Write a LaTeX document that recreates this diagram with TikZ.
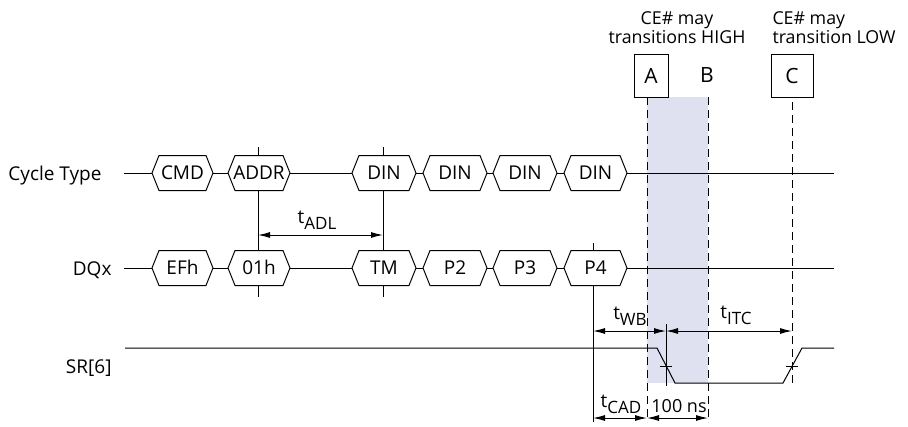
\documentclass[tikz,border=0pt]{standalone}
\usepackage{fontspec}
\setmainfont{Open Sans}
\usetikzlibrary{arrows.meta}
\newcommand{\busseg}[5]{%
  \coordinate (#1-w) at (#2,#4);
  \coordinate (#1-e) at (#3,#4);
  \draw[fill=white] (#2,#4) -- (#2+7,#4-17.5) -- (#3-7,#4-17.5) -- (#3,#4) -- (#3-7,#4+17.5) -- (#2+7,#4+17.5) -- cycle;
  \node[txt, anchor=base] (#1) at ({(#2+#3)/2},#4+6.8) {#5};}
\newcommand{\subtxt}[1]{\raisebox{-6pt}{\fontsize{17}{19}\selectfont #1}}
\begin{document}
\begin{tikzpicture}[x=1pt,y=-1pt, line width=1pt,
  txt/.style={inner sep=0pt, font=\fontsize{19}{22}\selectfont},
  hdr/.style={inner sep=0pt, font=\fontsize{17.8}{20}\selectfont},
  letterbox/.style={draw, inner sep=0pt, minimum height=43, font=\fontsize{21}{24}\selectfont},
  dim/.style={{Latex[length=12pt,width=6pt]}-{Latex[length=12pt,width=6pt]}},
  dsh/.style={dash pattern=on 8pt off 5pt, line width=0.9pt},
  shade/.style={fill={rgb,255:red,223;green,225;blue,240}}]
\useasboundingbox (0,0) rectangle (908,426);
% shaded window
\fill[shade] (647,97) rectangle (708,383);
% header texts
\node[hdr, anchor=base] (h1a) at (677,24) {CE\# may};
\node[hdr, anchor=base] (h1b) at (677,43.5) {transitions HIGH};
\node[hdr, anchor=base west] (h2a) at (772,24) {CE\# may};
\node[hdr, anchor=base west] (h2b) at (772,43.5) {transition LOW};
\node[letterbox, minimum width=34] (boxA) at (651,75.5) {A};
\node[inner sep=0pt, font=\fontsize{21}{24}\selectfont] (labB) at (707,75.5) {B};
\node[letterbox, minimum width=42] (boxC) at (792,75.5) {C};
% dashed markers
\coordinate (aT) at (647,97); \coordinate (aB) at (647,422);
\coordinate (bT) at (708,97); \coordinate (bB) at (708,422);
\coordinate (cT) at (792,102); \coordinate (cB) at (792,386);
\draw[dsh] (aT) -- (aB);
\draw[dsh] (bT) -- (bB);
\draw[dsh] (cT) -- (cB);
% vertical reference lines
\coordinate (v1T) at (258,147); \coordinate (v1B) at (258,297);
\coordinate (v2T) at (383,147); \coordinate (v2B) at (383,297);
\coordinate (v3T) at (593,243); \coordinate (v3B) at (593,422);
\coordinate (v4T) at (666,324); \coordinate (v4B) at (666,386);
\draw (v1T) -- (v1B);
\draw (v2T) -- (v2B);
\draw (v3T) -- (v3B);
\draw (v4T) -- (v4B);
% row labels
\node[txt, anchor=base east] (ctlab) at (102,180) {Cycle Type};
\node[txt, anchor=base east] (dqlab) at (112,275) {DQx};
\node[txt, anchor=base east] (srlab) at (112,373) {SR[6]};
% Cycle Type row
\coordinate (ct0) at (124,173); \coordinate (ct1) at (834,173);
\busseg{cmd}{152}{213}{173}{CMD}
\busseg{addr}{228}{290}{173}{ADDR}
\busseg{dina}{352}{416}{173}{DIN}
\busseg{dinb}{423}{487}{173}{DIN}
\busseg{dinc}{493}{557}{173}{DIN}
\busseg{dind}{564}{627}{173}{DIN}
\draw (ct0) -- (cmd-w);
\draw (cmd-e) -- (addr-w);
\draw (addr-e) -- (dina-w);
\draw (dina-e) -- (dinb-w);
\draw (dinb-e) -- (dinc-w);
\draw (dinc-e) -- (dind-w);
\draw (dind-e) -- (ct1);
% DQx row
\coordinate (dq0) at (124,268); \coordinate (dq1) at (834,268);
\busseg{efh}{152}{213}{268}{EFh}
\busseg{one}{228}{290}{268}{01h}
\busseg{tm}{352}{416}{268}{TM}
\busseg{ptwo}{423}{487}{268}{P2}
\busseg{pthree}{493}{557}{268}{P3}
\busseg{pfour}{564}{627}{268}{P4}
\draw (dq0) -- (efh-w);
\draw (efh-e) -- (one-w);
\draw (one-e) -- (tm-w);
\draw (tm-e) -- (ptwo-w);
\draw (ptwo-e) -- (pthree-w);
\draw (pthree-e) -- (pfour-w);
\draw (pfour-e) -- (dq1);
% SR[6]
\coordinate (s0) at (125,348); \coordinate (s1) at (657,348);
\coordinate (s2) at (675,383); \coordinate (s3) at (783,383);
\coordinate (s4) at (802,348); \coordinate (s5) at (834,348);
\draw[line join=miter] (s0) -- (s1) -- (s2) -- (s3) -- (s4) -- (s5);
\coordinate (k1a) at (660,366); \coordinate (k1b) at (672,366);
\coordinate (k2a) at (786,366); \coordinate (k2b) at (798,366);
\draw (k1a) -- (k1b);
\draw (k2a) -- (k2b);
% timing dimensions
\coordinate (adlL) at (258,235); \coordinate (adlR) at (383,235);
\draw[dim] (adlL) -- (adlR);
\node[txt, anchor=base] (tadl) at (317,223) {t\subtxt{ADL}};
\coordinate (wbL) at (593,331); \coordinate (wbR) at (666,331); \coordinate (itcR) at (792,331);
\draw[dim] (wbL) -- (wbR);
\draw[dim] (wbR) -- (itcR);
\node[txt, anchor=base] (twb) at (630,319) {t\subtxt{WB}};
\node[txt, anchor=base] (titc) at (736,318) {t\subtxt{ITC}};
\coordinate (cadL) at (593,418); \coordinate (cadR) at (647,418); \coordinate (nsR) at (708,418);
\draw[dim] (cadL) -- (cadR);
\draw[dim] (cadR) -- (nsR);
\node[txt, anchor=base] (tcad) at (621,407) {t\subtxt{CAD}};
\node[txt, anchor=base, font=\fontsize{18}{20}\selectfont] (ns) at (679,412) {100 ns};
\end{tikzpicture}
\end{document}
